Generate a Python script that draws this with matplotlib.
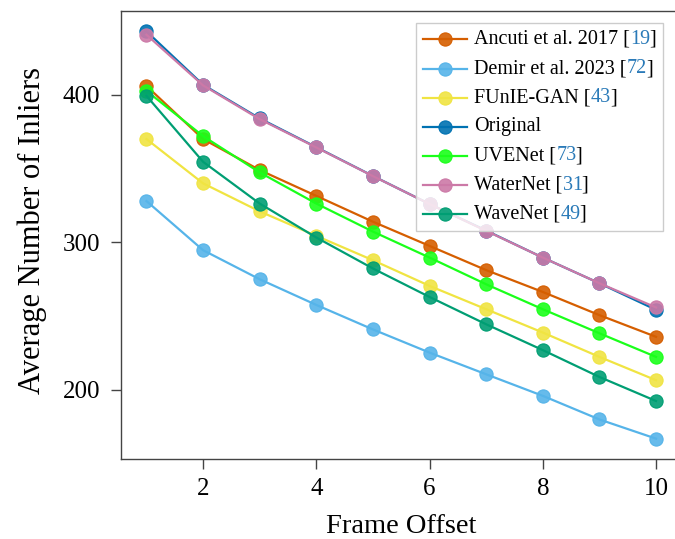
import matplotlib
matplotlib.use("Agg")
import matplotlib.pyplot as plt
from matplotlib.lines import Line2D
from matplotlib.offsetbox import AnchoredOffsetbox, VPacker, HPacker, TextArea, DrawingArea

plt.rcParams['font.family'] = ['Liberation Serif', 'DejaVu Serif']

frames = [1, 2, 3, 4, 5, 6, 7, 8, 9, 10]

ancuti = [406, 370, 349, 331.5, 314, 297.6, 281.2, 266.4, 250.7, 236]
demir = [328, 294.7, 275, 257.6, 241, 225.3, 210.6, 196, 180, 167]
funie = [370, 340, 321, 304.4, 287.9, 270.5, 254.7, 238.9, 222.4, 206.6]
original = [443, 406.8, 384, 364.5, 345, 326, 308, 289.7, 272.3, 254.3]
uvenet = [402.7, 372, 347.4, 326.3, 307.3, 289.7, 271.6, 254.7, 238.4, 222.4]
waternet = [440.7, 406.4, 383.5, 364.3, 344.9, 326, 307.8, 289.7, 272.3, 255.9]
wavenet = [399.3, 354.6, 326.3, 303.3, 282.3, 263, 244.5, 227, 208.8, 192.5]

names = ['Ancuti et al. 2017', 'Demir et al. 2023', 'FUnIE-GAN', 'Original',
         'UVENet', 'WaterNet', 'WaveNet']
refs = ['19', '72', '43', '', '73', '31', '49']
series = [ancuti, demir, funie, original, uvenet, waternet, wavenet]
colors = ['#d55e00', '#56b4e9', '#f0e442', '#0072b2', '#1aff1a', '#cc79a7', '#009e73']
cite_color = '#2a7ab8'

fig = plt.figure(figsize=(6.75, 5.39), dpi=100)
# right edge of the axes sits just outside the picture, like the original crop
ax = fig.add_axes([121 / 675, 80 / 539, 560.5 / 675, 448 / 539])

for vals, c in zip(series, colors):
    ax.plot(frames, vals, color=c, lw=1.6, marker='o', ms=9.5,
            mfc=matplotlib.colors.to_rgba(c, 0.9), mec=c, mew=0.8)

ax.set_xlim(0.55, 10.45)
ax.set_ylim(153.2, 456.8)
ax.set_xticks([2, 4, 6, 8, 10])
ax.set_yticks([200, 300, 400])

for side in ['left', 'bottom', 'top']:
    ax.spines[side].set_color('#444444')
    ax.spines[side].set_linewidth(1.0)
ax.spines['right'].set_visible(False)

ax.tick_params(axis='both', direction='out', length=7, width=1, color='#444444',
               labelsize=18)
ax.tick_params(axis='y', pad=8)
ax.tick_params(axis='x', pad=7)

ax.set_xlabel('Frame Offset', fontsize=20.5, labelpad=9.5)
ax.set_ylabel('Average Number of Inliers', fontsize=22, labelpad=11.5)
ax.yaxis.label.set_y(0.509)

# legend built by hand so the citation numbers can be blue
fs = 14.5
rows = []
for name, ref, c in zip(names, refs, colors):
    da = DrawingArea(32, 10, 0, 0)
    da.add_artist(Line2D([0, 32], [5, 5], color=c, lw=1.6))
    da.add_artist(Line2D([16], [5], marker='o', ms=9.5, color=c,
                         mfc=matplotlib.colors.to_rgba(c, 0.9), mec=c, mew=0.8))
    if ref:
        num = HPacker(children=[TextArea(ref, textprops=dict(fontsize=fs, color=cite_color)),
                                TextArea(']', textprops=dict(fontsize=fs, color='black'))],
                      sep=-0.8, pad=0, align='baseline')
        parts = [TextArea(name + ' [', textprops=dict(fontsize=fs, color='black')), num]
    else:
        parts = [TextArea(name, textprops=dict(fontsize=fs, color='black'))]
    label = HPacker(children=parts, sep=0, pad=0, align='baseline')
    rows.append(HPacker(children=[da, label], sep=5, pad=0, align='center'))

box = VPacker(children=rows, sep=7.3, pad=0, align='left')
leg = AnchoredOffsetbox(loc='upper right', child=box, pad=0.5, borderpad=0,
                        frameon=True, bbox_to_anchor=(663 / 675, 1 - 23 / 539),
                        bbox_transform=fig.transFigure)
leg.patch.set_boxstyle('square,pad=0')
leg.patch.set_facecolor((1, 1, 1, 0.8))
leg.patch.set_edgecolor('#cccccc')
leg.patch.set_linewidth(1.0)
leg.set_zorder(5)
ax.add_artist(leg)

fig.savefig('out.png', dpi=100)
